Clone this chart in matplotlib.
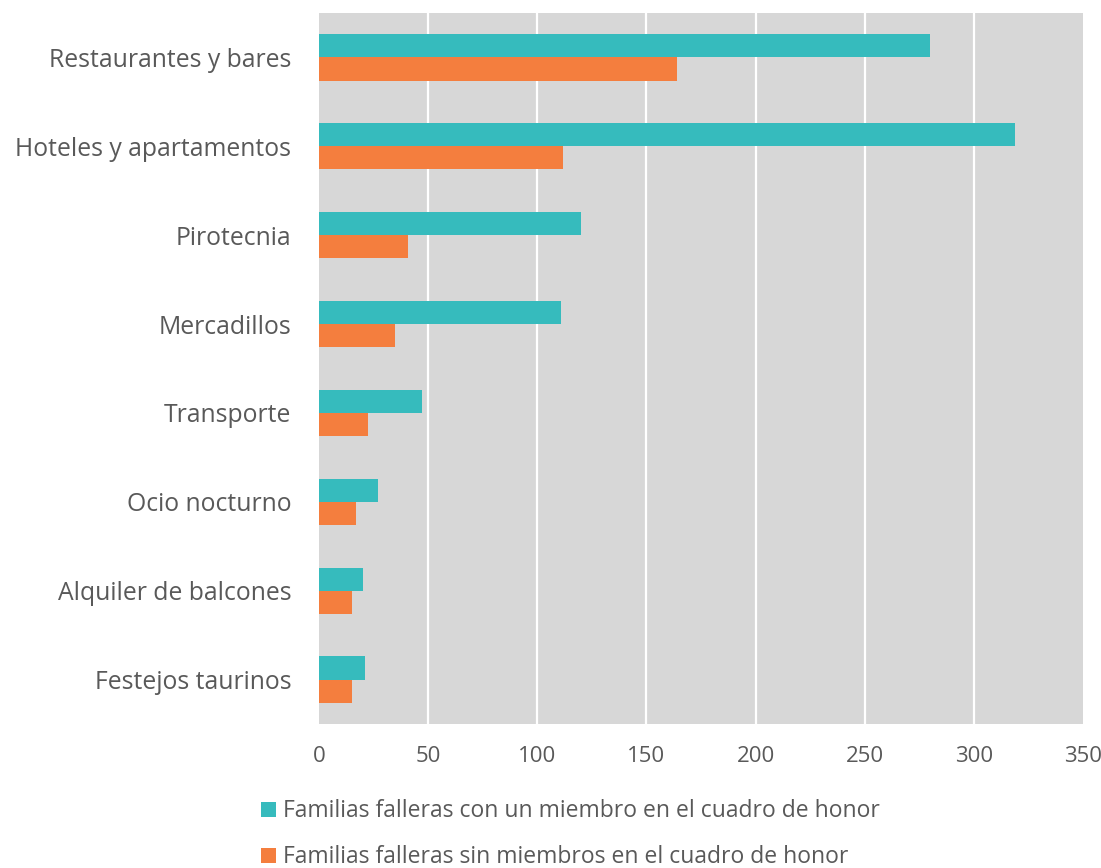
import matplotlib.pyplot as plt
import numpy as np

categories = ['Restaurantes y bares', 'Hoteles y apartamentos', 'Pirotecnia',
              'Mercadillos', 'Transporte', 'Ocio nocturno',
              'Alquiler de balcones', 'Festejos taurinos']
con_miembro = [280, 319, 120, 111, 47, 27, 20, 21]
sin_miembro = [164, 112, 41, 35, 22.5, 17, 15, 15]
series_labels = ['Familias falleras con un miembro en el cuadro de honor',
                 'Familias falleras sin miembros en el cuadro de honor']
xticks = [0, 50, 100, 150, 200, 250, 300, 350]

plt.rcParams['font.family'] = ['Open Sans', 'DejaVu Sans']
txt = '#595959'
teal = '#36BBBD'
orange = '#F47E3E'

fig = plt.figure(figsize=(11.01, 8.68), dpi=100)
ax = fig.add_axes([319 / 1101, 1 - 724 / 868, (1083 - 319) / 1101, (724 - 13) / 868])

y = np.arange(len(categories))
h = 0.26
ax.barh(y - h / 2, con_miembro, height=h, color=teal, label=series_labels[0], zorder=3)
ax.barh(y + h / 2, sin_miembro, height=h, color=orange, label=series_labels[1], zorder=3)

ax.set_facecolor('#D7D7D7')
ax.set_xlim(0, 350)
ax.set_ylim(len(categories) - 0.5, -0.5)
ax.set_xticks(xticks)
ax.set_xticklabels([str(t) for t in xticks], fontsize=16, color=txt)
ax.set_yticks(y)
ax.set_yticklabels(categories, fontsize=17.8, color=txt)
ax.tick_params(axis='both', length=0)
ax.tick_params(axis='y', pad=20)
ax.tick_params(axis='x', pad=16)
for s in ax.spines.values():
    s.set_visible(False)

for t in xticks[1:-1]:
    ax.axvline(t, color='white', lw=1.6, zorder=1)

leg = fig.legend(loc='upper left', bbox_to_anchor=(250 / 1101, 1 - 788 / 868),
                 frameon=False, fontsize=16.5, labelcolor=txt,
                 handlelength=0.65, handleheight=0.65, handletextpad=0.3,
                 labelspacing=0.95, borderpad=0)

fig.savefig('out.png', dpi=100)
